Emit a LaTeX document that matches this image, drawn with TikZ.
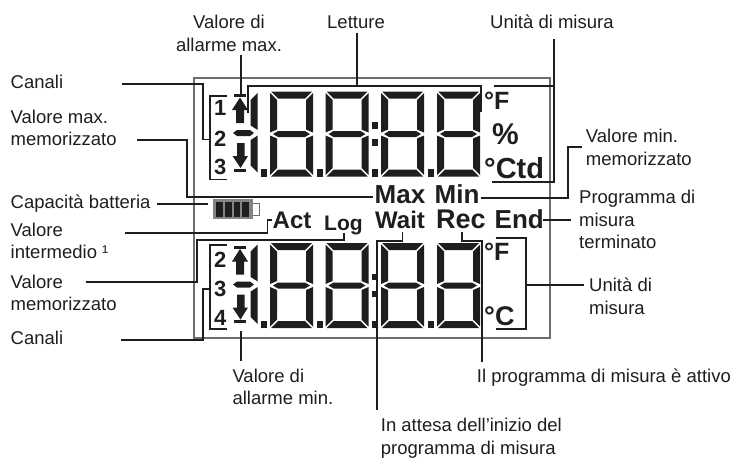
\documentclass[tikz,border=0pt]{standalone}
\usepackage{fontspec}
\setmainfont{Liberation Sans}
\definecolor{lcdink}{HTML}{1E1E1E}
\definecolor{framegray}{HTML}{6E6E6E}
\tikzset{
  lbl/.style={font=\fontsize{18.5}{22.7}\selectfont,align=left,inner sep=0pt,anchor=base west,text=lcdink},
  lblc/.style={lbl,align=center,anchor=base},
  lcdtext/.style={font=\bfseries\fontsize{#1}{#1}\selectfont,inner sep=0pt,anchor=base west,text=lcdink},
  leader/.style={draw=lcdink,line width=1.9pt,line join=miter},
  thinleader/.style={draw=lcdink,line width=1.5pt}
}
\newcommand{\lcddigit}[2]{%
  \begin{scope}[shift={(#1,#2)}]
    \fill[lcdink] (1,0) -- (42,0) -- (35,7) -- (8,7) -- cycle;
    \fill[lcdink] (1,85) -- (42,85) -- (35,78) -- (8,78) -- cycle;
    \fill[lcdink] (3,42.5) -- (8,39.5) -- (35,39.5) -- (40,42.5) -- (35,45.5) -- (8,45.5) -- cycle;
    \fill[lcdink] (0,1.5) -- (7,8.5) -- (7,38) -- (0,41) -- cycle;
    \fill[lcdink] (0,44) -- (7,47) -- (7,76.5) -- (0,83.5) -- cycle;
    \fill[lcdink] (43,1.5) -- (36,8.5) -- (36,38) -- (43,41) -- cycle;
    \fill[lcdink] (43,44) -- (36,47) -- (36,76.5) -- (43,83.5) -- cycle;
    \fill[lcdink] (-9,77.5) rectangle (-3,85);
  \end{scope}}
\newcommand{\lcdrow}[1]{%
  \foreach \digx in {270,325.5,381,437} {\lcddigit{\digx}{#1}}
  \begin{scope}[shift={(0,#1)}]
    \fill[lcdink] (257.7,1.5) -- (250.7,8.5) -- (250.7,34) -- (257.7,38.5) -- cycle;
    \fill[lcdink] (257.7,44) -- (250.7,48.5) -- (250.7,74) -- (257.7,81) -- cycle;
    \fill[lcdink] (233,41.5) -- (237,38.5) -- (250,38.5) -- (254,41.5) -- (250,44.5) -- (237,44.5) -- cycle;
    \fill[lcdink] (372,30.5) rectangle (377.5,37);
    \fill[lcdink] (372,47.5) rectangle (377.5,54);
    \fill[lcdink] (234,2.5) rectangle (246,5.5);
    \fill[lcdink] (240,6) -- (248,18.5) -- (244,18.5) -- (244,31.5) -- (236,31.5) -- (236,18.5) -- (232,18.5) -- cycle;
    \fill[lcdink] (237,51.5) -- (244.5,51.5) -- (244.5,64.5) -- (248,64.5) -- (240.5,76.5) -- (232.5,64.5) -- (237,64.5) -- cycle;
    \fill[lcdink] (234,77) rectangle (246,80);
  \end{scope}}

\begin{document}
\begin{tikzpicture}[x=1pt,y=-1pt]
\useasboundingbox (0,0) rectangle (734,458);

\draw[framegray,line width=1.7pt] (194,78) rectangle (550,338);

\lcdrow{91.5}
\lcdrow{243}

\node[lcdtext=22] (num1) at (214,115) {1};
\node[lcdtext=22] (num2) at (214,146) {2};
\node[lcdtext=22] (num3) at (214,174) {3};
\node[lcdtext=22] (num4) at (214,267.5) {2};
\node[lcdtext=22] (num5) at (214,296) {3};
\node[lcdtext=22] (num6) at (214,325) {4};

\node[lcdtext=25] (unitF) at (484,109) {°F};
\node[lcdtext=30] (unitP) at (492,144) {\%};
\node[lcdtext=29] (unitC) at (484,178) {°Ctd};
\node[lcdtext=25] (unitG) at (484,260) {°F};
\node[lcdtext=27] (unitH) at (484,325) {°C};

\node[lcdtext=26] (txtMax) at (374.5,203) {Max};
\node[lcdtext=26] (txtMin) at (434.5,203) {Min};
\node[lcdtext=24] (txtAct) at (272.5,228) {Act};
\node[lcdtext=21] (txtLog) at (324,230) {Log};
\node[lcdtext=24] (txtWait) at (375,228) {Wait};
\node[lcdtext=27] (txtRec) at (436,228) {Rec};
\node[lcdtext=26] (txtEnd) at (494.5,228) {End};

\fill[framegray!85] (212.7,199) rectangle (253,219);
\fill[lcdink] (216,202) rectangle (223,217);
\fill[lcdink] (225,202) rectangle (231.5,217);
\fill[lcdink] (233.5,202) rectangle (240,217);
\fill[lcdink] (242,202) rectangle (249,217);
\draw[framegray,line width=1pt] (253,203.5) -- (259,203.5) -- (259,215.5) -- (253,215.5);

\node[lblc] (lblAlarmMax) at (229,51) {Valore di\\allarme max.};
\node[lblc] (lblRead) at (356,28.5) {Letture};
\node[lbl] (lblUnitTop) at (490,28) {Unità di misura};
\node[lbl] (lblChanTop) at (10.5,88) {Canali};
\node[lbl] (lblMaxMem) at (10.5,145.7) {Valore max.\\memorizzato};
\node[lbl] (lblBatt) at (10.5,208) {Capacità batteria};
\node[lbl] (lblInter) at (10.5,258.7) {Valore\\intermedio ¹};
\node[lbl] (lblMem) at (10.5,310.7) {Valore\\memorizzato};
\node[lbl] (lblChanBot) at (10.5,344) {Canali};
\node[lbl] (lblAlarmMin) at (232.3,404.7) {Valore di\\allarme min.};
\node[lbl] (lblWait) at (380.7,454) {In attesa dell’inizio del\\programma di misura};
\node[lbl] (lblRec) at (476.7,382) {Il programma di misura è attivo};
\node[lbl] (lblUnitBot) at (589,314) {Unità di\\misura};
\node[lbl] (lblMinMem) at (585.7,165) {Valore min.\\memorizzato};
\node[lbl] (lblEnd) at (579,248.7) {Programma di\\misura\\terminato};

\coordinate (alarmMaxA) at (241.3,55);
\coordinate (alarmMaxB) at (241.3,94);
\draw[leader] (alarmMaxA) -- (alarmMaxB);

\coordinate (readA) at (356.7,33);
\coordinate (readB) at (356.7,85.7);
\coordinate (readL) at (248,113);
\coordinate (readR) at (480.7,112);
\draw[leader] (readA) -- (readB);
\draw[leader] (readL) |- (readB) -| (readR);

\coordinate (unitTopA) at (554,39);
\coordinate (unitTopB) at (554,181.8);
\coordinate (unitTopF) at (494,86);
\coordinate (unitTopC) at (492,181.8);
\draw[leader] (unitTopA) -- (unitTopB) -- (unitTopC);
\draw[leader] (unitTopF) -- (unitTopF -| unitTopA);

\coordinate (chanTopA) at (122,84.3);
\coordinate (chanTopB) at (210,139.5);
\draw[leader] (chanTopA) -- (202.7,84.3) -- (202.7,139.5) -- (chanTopB);
\coordinate (braceTopA) at (226.7,96);
\coordinate (braceTopB) at (226.7,179.5);
\draw[leader] (braceTopA) -- (210,96) -- (210,179.5) -- (braceTopB);

\coordinate (maxMemA) at (137,140);
\coordinate (maxMemB) at (372.5,197);
\draw[leader] (maxMemA) -- (187,140) -- (187,197) -- (maxMemB);

\coordinate (battA) at (157,204);
\coordinate (battB) at (208,204);
\draw[leader] (battA) -- (battB);

\coordinate (interA) at (125,233);
\coordinate (interB) at (271.7,220);
\draw[thinleader] (interA) -- (267.5,233) -- (267.5,220) -- (interB);

\coordinate (memA) at (85.7,282.3);
\coordinate (memB) at (344.3,232.5);
\draw[leader] (memA) -- (197.3,282.3) -- (197.3,240.3) -- (344.3,240.3) -- (memB);

\coordinate (chanBotA) at (120.7,339.7);
\coordinate (chanBotB) at (210,288.7);
\draw[leader] (chanBotA) -- (202.7,339.7) -- (202.7,288.7) -- (chanBotB);
\coordinate (braceBotA) at (226.7,245.3);
\coordinate (braceBotB) at (226.7,329);
\draw[leader] (braceBotA) -- (210,245.3) -- (210,329) -- (braceBotB);

\coordinate (alarmMinA) at (241,331);
\coordinate (alarmMinB) at (241,361);
\draw[leader] (alarmMinA) -- (alarmMinB);

\coordinate (waitA) at (377.3,409.7);
\coordinate (waitB) at (402.5,232);
\draw[leader] (waitA) -- (377.3,240.7) -- (402.5,240.7) -- (waitB);

\coordinate (recA) at (482.3,362);
\coordinate (recB) at (461.7,232);
\draw[leader] (recA) -- (482.3,240.7) -- (461.7,240.7) -- (recB);

\coordinate (unitBotA) at (495.7,238);
\coordinate (unitBotB) at (495.7,328.7);
\coordinate (unitBotC) at (584,285.3);
\draw[leader] (unitBotA) -- (525.7,238) -- (525.7,328.7) -- (unitBotB);
\draw[leader] (unitBotC) -- (525.7,285.3);

\coordinate (minMemA) at (480.7,198);
\coordinate (minMemB) at (582,146.7);
\draw[leader] (minMemA) -- (568,198) -- (568,146.7) -- (minMemB);

\coordinate (endA) at (543,220);
\coordinate (endB) at (570.7,220);
\draw[leader] (endA) -- (endB);
\end{tikzpicture}
\end{document}
